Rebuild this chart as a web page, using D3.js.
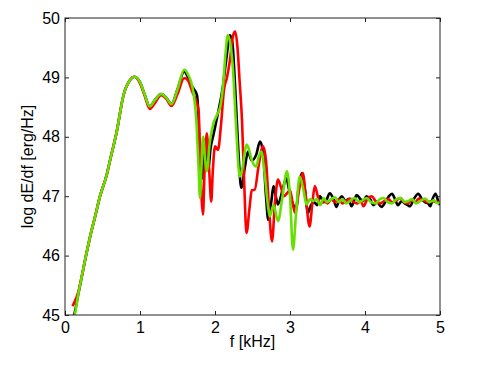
<!DOCTYPE html>
<html>
<head>
<meta charset="utf-8">
<script src="https://cdn.jsdelivr.net/npm/d3@7"></script>
<style>
  html, body { margin: 0; padding: 0; background: #fff; }
  svg { display: block; }
  text { font-family: "Liberation Sans", Arial, sans-serif; fill: #000; }
</style>
</head>
<body>
<div id="chart"></div>
<script>
// ----------------------------------------------------------------------------
// Data
// ----------------------------------------------------------------------------

const xTicks = [0, 1, 2, 3, 4, 5]
const yTicks = [45, 46, 47, 48, 49, 50]

const blackF = [0.1, 0.12, 0.18, 0.24, 0.28, 0.35, 0.4, 0.467, 0.556, 0.6, 0.69, 0.78, 0.87, 0.924, 1.0, 1.06, 1.13, 1.2, 1.28, 1.35, 1.42, 1.5, 1.59,
  1.64, 1.68, 1.72, 1.76, 1.78, 1.8, 1.83, 1.86, 1.88, 1.91, 1.94, 1.98, 2.04, 2.1, 2.15, 2.2, 2.23, 2.27, 2.31, 2.35, 2.4, 2.44, 2.49, 2.55, 2.6, 2.64,
  2.68, 2.71, 2.75, 2.78, 2.81, 2.84, 2.9, 2.95, 2.99, 3.03, 3.08, 3.12, 3.16, 3.2, 3.24, 3.28, 3.32, 3.36, 3.4, 3.45, 3.49, 3.53, 3.58, 3.62, 3.66,
  3.69, 3.74, 3.78, 3.82, 3.86, 3.89, 3.94, 3.98, 4.02, 4.07, 4.11, 4.16, 4.22, 4.28, 4.32, 4.36, 4.4, 4.44, 4.49, 4.53, 4.57, 4.6, 4.65, 4.71, 4.76,
  4.8, 4.84, 4.87, 4.9, 4.94, 4.98, 5.0]
const blackV = [44.95, 45.0, 45.37, 45.75, 46.0, 46.4, 46.65, 47.0, 47.36, 47.6, 48.09, 48.7, 48.96, 49.01, 48.92, 48.72, 48.51, 48.62, 48.72, 48.66, 48.55, 48.8, 49.1,
  49.0, 48.88, 48.8, 48.7, 48.3, 47.4, 47.3, 47.95, 47.85, 47.44, 47.8, 48.04, 48.4, 48.8, 49.3, 49.71, 49.6, 48.8, 47.8, 47.14, 47.5, 47.75, 47.6, 47.7, 47.92, 47.75,
  47.0, 46.6, 46.9, 47.17, 47.0, 46.86, 47.1, 47.3, 47.1, 46.9, 46.8, 47.2, 47.39, 47.1, 46.72, 46.85, 46.9, 46.85, 47.0, 46.9, 46.95, 47.05, 46.95, 46.82, 46.95,
  47.0, 46.92, 46.95, 46.83, 46.95, 47.02, 46.95, 46.92, 47.0, 46.95, 46.85, 46.9, 46.82, 46.92, 47.0, 47.04, 46.95, 46.85, 46.92, 46.88, 46.85, 46.83, 46.95, 47.04, 46.95,
  46.9, 46.88, 46.83, 46.95, 47.04, 46.9, 46.85]

const redF = [0.1, 0.12, 0.18, 0.24, 0.28, 0.35, 0.4, 0.467, 0.556, 0.6, 0.69, 0.78, 0.87, 0.924, 1.0, 1.06, 1.13, 1.2, 1.28, 1.35, 1.42, 1.5, 1.59,
  1.64, 1.7, 1.75, 1.78, 1.8, 1.82, 1.84, 1.86, 1.89, 1.92, 1.95, 1.97, 2.0, 2.04, 2.08, 2.12, 2.16, 2.2, 2.24, 2.27, 2.3, 2.33, 2.36, 2.39, 2.42, 2.46,
  2.49, 2.53, 2.58, 2.64, 2.68, 2.72, 2.76, 2.8, 2.84, 2.88, 2.92, 2.96, 3.0, 3.04, 3.07, 3.12, 3.17, 3.21, 3.26, 3.3, 3.33, 3.37, 3.4, 3.45, 3.5,
  3.55, 3.6, 3.65, 3.7, 3.75, 3.8, 3.85, 3.9, 3.94, 3.98, 4.03, 4.09, 4.14, 4.2, 4.26, 4.31, 4.36, 4.42, 4.47, 4.52, 4.57, 4.62, 4.67, 4.72, 4.78,
  4.84, 4.9, 4.95, 5.0]
const redV = [45.15, 45.2, 45.4, 45.75, 46.0, 46.4, 46.65, 47.0, 47.36, 47.6, 48.09, 48.7, 48.96, 49.01, 48.9, 48.7, 48.47, 48.57, 48.7, 48.64, 48.52, 48.72, 48.99,
  48.95, 48.75, 48.6, 48.45, 47.8, 47.0, 46.69, 47.4, 48.06, 47.5, 46.91, 47.4, 47.84, 47.78, 48.2, 48.8, 49.0, 49.3, 49.7, 49.77, 49.5, 48.9, 48.28, 47.2, 46.38, 46.8,
  47.1, 47.11, 47.5, 47.84, 47.6, 46.8, 46.24, 46.9, 47.28, 47.15, 47.0, 47.05, 47.1, 46.85, 46.72, 47.1, 47.39, 47.0, 46.49, 46.9, 47.17, 47.0, 46.86, 46.92, 46.88,
  46.95, 46.9, 46.95, 46.88, 46.92, 46.96, 46.9, 46.88, 46.92, 46.83, 46.95, 47.0, 46.92, 46.88, 46.92, 46.95, 46.9, 46.93, 46.97, 46.9, 46.88, 46.93, 46.9, 46.96, 46.93,
  46.9, 46.92, 46.9, 46.9]

const greenF = [0.1, 0.12, 0.18, 0.24, 0.28, 0.35, 0.4, 0.467, 0.556, 0.6, 0.69, 0.78, 0.87, 0.924, 1.0, 1.06, 1.13, 1.2, 1.28, 1.35, 1.42, 1.5, 1.59,
  1.64, 1.71, 1.75, 1.78, 1.8, 1.82, 1.84, 1.87, 1.89, 1.93, 1.98, 2.03, 2.07, 2.11, 2.14, 2.17, 2.2, 2.24, 2.28, 2.33, 2.37, 2.42, 2.45, 2.49, 2.55,
  2.58, 2.62, 2.66, 2.7, 2.73, 2.78, 2.84, 2.9, 2.96, 3.0, 3.04, 3.08, 3.13, 3.18, 3.22, 3.27, 3.31, 3.36, 3.4, 3.45, 3.49, 3.55, 3.6, 3.65, 3.7,
  3.75, 3.8, 3.86, 3.92, 3.97, 4.02, 4.08, 4.14, 4.2, 4.25, 4.3, 4.36, 4.42, 4.48, 4.53, 4.58, 4.63, 4.68, 4.74, 4.8, 4.86, 4.92, 4.97, 5.0]
const greenV = [44.9, 44.95, 45.37, 45.75, 46.0, 46.4, 46.65, 47.0, 47.36, 47.6, 48.09, 48.7, 48.96, 49.01, 48.92, 48.72, 48.51, 48.62, 48.72, 48.66, 48.55, 48.8, 49.13,
  49.05, 48.76, 48.3, 47.5, 46.97, 47.5, 48.0, 47.6, 47.42, 47.9, 48.23, 48.38, 48.51, 48.9, 49.4, 49.71, 49.6, 49.13, 48.2, 47.33, 47.5, 47.87, 47.8, 47.61, 47.5,
  47.65, 47.75, 47.4, 46.9, 46.66, 46.85, 46.58, 47.0, 47.42, 47.0, 46.1, 46.7, 47.33, 47.1, 46.86, 46.95, 46.92, 46.95, 46.85, 46.97, 46.9, 46.95, 46.98, 46.9, 46.95,
  46.88, 46.92, 46.97, 46.9, 46.93, 46.97, 46.9, 46.88, 46.95, 46.97, 46.9, 46.88, 46.95, 46.97, 46.9, 46.92, 46.95, 46.88, 46.92, 46.96, 46.9, 46.93, 46.88, 46.9]

const seriesList = [
  { name: "black", color: "#000000", f: blackF, v: blackV },
  { name: "red",   color: "#ff0000", f: redF,   v: redV },
  { name: "green", color: "#66e000", f: greenF, v: greenV }
]

// ----------------------------------------------------------------------------
// Layout
// ----------------------------------------------------------------------------

const width = 485
const height = 365
const margin = { top: 18, right: 45, bottom: 50, left: 65 }
const plotW = width - margin.left - margin.right
const plotH = height - margin.top - margin.bottom

const svg = d3.select("#chart").append("svg")
  .attr("width", width)
  .attr("height", height)

const x = d3.scaleLinear().domain([0, 5]).range([0, plotW])
const y = d3.scaleLinear().domain([45, 50]).range([plotH, 0])

const g = svg.append("g")
  .attr("transform", "translate(" + margin.left + "," + margin.top + ")")

svg.append("defs").append("clipPath")
  .attr("id", "plot-clip")
  .append("rect")
  .attr("width", plotW)
  .attr("height", plotH)

// ----------------------------------------------------------------------------
// Lines
// ----------------------------------------------------------------------------

const line = d3.line()
  .x(d => x(d[0]))
  .y(d => y(d[1]))
  .curve(d3.curveMonotoneX)

const lines = g.append("g").attr("clip-path", "url(#plot-clip)")
seriesList.forEach(s => {
  lines.append("path")
    .datum(d3.zip(s.f, s.v))
    .attr("fill", "none")
    .attr("stroke", s.color)
    .attr("stroke-width", 2.6)
    .attr("stroke-linejoin", "round")
    .attr("d", line)
})

// ----------------------------------------------------------------------------
// Axes (MATLAB-like box with inward ticks)
// ----------------------------------------------------------------------------

const tick = 4
function styleAxis(sel)
{
  sel.select(".domain").remove()
  sel.selectAll(".tick line").attr("stroke", "#222")
  sel.selectAll(".tick text")
    .style("font-size", "16px")
    .style("font-family", "Liberation Sans, Arial, sans-serif")
}

g.append("g")
  .attr("transform", "translate(0," + plotH + ")")
  .call(d3.axisBottom(x).tickValues(xTicks).tickSize(-tick).tickPadding(7).tickFormat(d3.format("d")))
  .call(styleAxis)

g.append("g")
  .call(d3.axisTop(x).tickValues(xTicks).tickSize(-tick).tickFormat(""))
  .call(styleAxis)

g.append("g")
  .call(d3.axisLeft(y).tickValues(yTicks).tickSize(-tick).tickPadding(5).tickFormat(d3.format("d")))
  .call(styleAxis)

g.append("g")
  .attr("transform", "translate(" + plotW + ",0)")
  .call(d3.axisRight(y).tickValues(yTicks).tickSize(-tick).tickFormat(""))
  .call(styleAxis)

g.append("rect")
  .attr("width", plotW)
  .attr("height", plotH)
  .attr("fill", "none")
  .attr("stroke", "#222")
  .attr("stroke-width", 1)

// Axis labels
svg.append("text")
  .attr("x", margin.left + plotW / 2)
  .attr("y", 347)
  .attr("text-anchor", "middle")
  .style("font-size", "16px")
  .text("f [kHz]")

svg.append("text")
  .attr("transform", "translate(" + 33 + "," + (margin.top + plotH / 2) + ") rotate(-90)")
  .attr("text-anchor", "middle")
  .style("font-size", "16px")
  .text("log dE/df [erg/Hz]")
</script>
</body>
</html>
